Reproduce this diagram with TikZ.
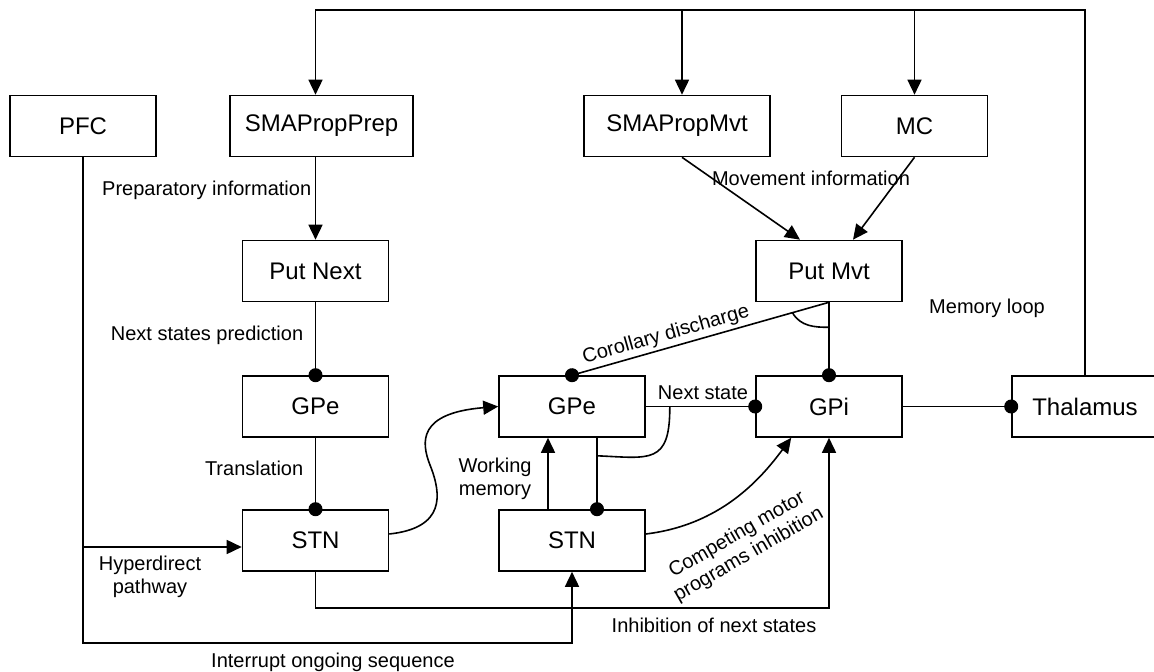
\documentclass[tikz,border=0pt]{standalone}
\usepackage{fontspec}
\setmainfont{Liberation Sans}
\usetikzlibrary{positioning,arrows.meta,calc}

\begin{document}
\begin{tikzpicture}[x=0.5pt, y=-0.5pt, line width=0.8pt,
  area/.style={draw, rectangle, minimum height=30.5pt, minimum width=73pt, inner sep=0pt, font=\fontsize{12}{14}\selectfont},
  lbl/.style={inner sep=0pt, font=\fontsize{10}{11.5}\selectfont},
  exc/.style={-{Triangle[length=7.5pt,width=7pt]}},
  inh/.style={-{Circle[length=7pt]}, shorten >=-3.5pt}]
\useasboundingbox (0,0) rectangle (1154,672);
\node (pfc) [area] at (83,126) {PFC};
\node (smaprep) [area, minimum width=91.5pt, right of=pfc, node distance=119.25pt] {SMAPropPrep};
\node (smamvt) [area, minimum width=93pt, right of=smaprep, node distance=177.75pt] {SMAPropMvt};
\node (mc) [area, right of=smamvt, node distance=118.75pt] {MC};
\node (putnext) [area] at (315.5,271) {Put Next};
\node (gpe1) [area, below of=putnext, node distance=67.75pt] {GPe};
\node (stn1) [area, below of=gpe1, node distance=67pt] {STN};
\node (gpe2) [area, right of=gpe1, node distance=128.25pt] {GPe};
\node (gpi) [area, right of=gpe2, node distance=128.5pt] {GPi};
\node (thal) [area, right of=gpi, node distance=128pt] {Thalamus};
\node (stn2) [area, right of=stn1, node distance=128.25pt] {STN};
\node (putmvt) [area, above of=gpi, node distance=67.75pt] {Put Mvt};
\coordinate (top) at (0,10);
\coordinate (bot) at (0,643);
\coordinate (hyp) at ([yshift=-3.25pt]stn1.west);
% memory loop
\draw [exc] (thal.north) |- (top -| putnext.north) -- (putnext.north |- smaprep.north);
\draw [exc] ([xshift=2.5pt]smamvt.north |- top) -- ([xshift=2.5pt]smamvt.north);
\draw [exc] (mc.north |- top) -- (mc.north);
\draw [exc] (putnext.north |- smaprep.south) -- (putnext.north);
\draw [exc] ([xshift=2.5pt]smamvt.south) -- ([xshift=-14.5pt]putmvt.north);
\draw [exc] (mc.south) -- ([xshift=12pt]putmvt.north);
\draw [inh] (putnext.south) -- (gpe1.north);
\draw [inh] (gpe1.south) -- (stn1.north);
\draw [exc] (hyp -| pfc.south) -- (hyp);
\draw [exc] (pfc.south) -- (pfc.south |- bot) -| (stn2.south);
\draw [exc] (stn1.south) -- ++(0,36) -| (gpi.south);
\draw [exc] ([yshift=3.25pt]stn1.east) .. controls (445,528) and (442,495) .. (430,465) .. controls (421,442) and (418,413) .. (gpe2.west);
\draw [exc] ([xshift=-12pt]stn2.north) -- ([xshift=-12pt]gpe2.south);
\draw [inh] ([xshift=12.5pt]gpe2.south) -- ([xshift=12.5pt]stn2.north);
\draw [inh] (gpe2.east) -- (gpi.west);
\draw ([xshift=12pt]gpe2.east) .. controls (670,465) and (650,458) .. ([xshift=12.5pt,yshift=-9pt]gpe2.south);
\draw [exc] ([yshift=3.25pt]stn2.east) .. controls (720,525) and (760,480) .. ([xshift=18pt]gpi.south west);
\draw [inh] (putmvt.south) -- (gpe2.north);
\draw [inh] (putmvt.south) -- (gpi.north);
\draw ($(putmvt.south)!19pt!(gpe2.north)$) .. controls +(4pt,-7pt) and +(-7pt,0pt) .. ([yshift=-12.5pt]putmvt.south);
\draw [inh] (gpi.east) -- (thal.west);
% labels
\node (lprep) [lbl, anchor=east] at (312,190) {Preparatory information};
\node (lmvt) [lbl] at (811,178) {Movement information};
\node (lpred) [lbl, anchor=east] at (304,335) {Next states prediction};
\node (ltrans) [lbl, anchor=east] at (304,468) {Translation};
\node (lcor) [lbl, rotate=16] at (666,335) {Corollary discharge};
\node (lnext) [lbl] at (703,393) {Next state};
\node (lloop) [lbl] at (987,308) {Memory loop};
\node (lwork) [lbl, align=center] at (495,479) {Working\\memory};
\node (lhyp) [lbl, align=center] at (150,577) {Hyperdirect\\pathway};
\node (lcomp) [lbl, align=center, rotate=30] at (743,545) {Competing motor\\programs inhibition};
\node (linh) [lbl] at (714,625) {Inhibition of next states};
\node (lint) [lbl] at (333,662) {Interrupt ongoing sequence};
\end{tikzpicture}
\end{document}
